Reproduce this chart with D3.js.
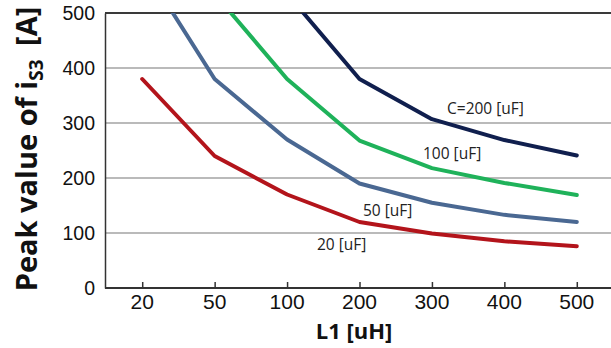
<!DOCTYPE html>
<html>
<head>
<title>Peak value of iS3 vs L1</title>
<script src="https://cdnjs.cloudflare.com/ajax/libs/d3/7.8.5/d3.min.js"></script>
<style>
  body { margin: 0; background: #fff; }
  svg { display: block; }
</style>
</head>
<body>
<svg width="611" height="348"></svg>
<script>
    // L1 values (categorical axis)
    const categories = ["20", "50", "100", "200", "300", "400", "500"];
    // peak iS3 [A] for each capacitor value
    const c20 = [380, 240, 170, 120, 99, 85, 76];
    const c50 = [588, 380, 270, 190, 155, 133, 120];
    const c100 = [null, 535, 380, 268, 218, 191, 169];
    const c200 = [null, null, 535, 380, 307, 269, 241];
    const yTicks = [0, 100, 200, 300, 400, 500];

    const series = [
        {name: "20 [uF]", values: c20, color: "#b3141b", lx: 317, ly: 250},
        {name: "50 [uF]", values: c50, color: "#4a6892", lx: 363, ly: 216},
        {name: "100 [uF]", values: c100, color: "#1fb25a", lx: 423, ly: 159},
        {name: "C=200 [uF]", values: c200, color: "#101f4e", lx: 447, ly: 114}
    ];

    const plotL = 105, plotT = 13, plotB = 288, plotR = 611;

    var x = d3.scalePoint()
        .domain(categories)
        .range([106, 613])
        .padding(0.5);
    var y = d3.scaleLinear()
        .domain([0, 500])
        .range([plotB, plotT]);

    var svg = d3.select("svg");

    svg.append("clipPath").attr("id", "plot")
        .append("rect")
        .attr("x", plotL).attr("y", plotT)
        .attr("width", plotR - plotL).attr("height", plotB - plotT);

    // horizontal gridlines
    svg.append("g")
        .selectAll("line").data(yTicks.filter(d => d > 0 && d < 500)).enter().append("line")
            .attr("x1", plotL).attr("x2", plotR)
            .attr("y1", d => y(d)).attr("y2", d => y(d))
            .attr("stroke", "#a3a3a3")
            .attr("stroke-width", 1.5);

    // top border
    svg.append("line")
        .attr("x1", plotL).attr("x2", plotR)
        .attr("y1", y(500)).attr("y2", y(500))
        .attr("stroke", "#3a3a3a").attr("stroke-width", 2);

    // y axis
    var yAxis = svg.append("g")
        .attr("transform", "translate(" + plotL + ",0)")
        .call(d3.axisLeft(y).tickValues(yTicks).tickSize(0).tickPadding(10));
    yAxis.select(".domain").attr("stroke", "#333").attr("stroke-width", 1.5);
    yAxis.selectAll("text")
        .attr("font-family", "Liberation Sans, Arial, sans-serif")
        .attr("font-size", 19.5)
        .attr("fill", "#111");

    // x axis
    var xAxis = svg.append("g")
        .attr("transform", "translate(0," + plotB + ")")
        .call(d3.axisTop(x).tickSize(6).tickFormat(""));
    xAxis.select(".domain").attr("d", "M" + plotL + ",0H" + plotR)
        .attr("stroke", "#333").attr("stroke-width", 2);
    xAxis.selectAll(".tick line").attr("stroke", "#333").attr("stroke-width", 1.5);

    svg.append("g")
        .selectAll("text").data(categories).enter().append("text")
            .attr("x", d => x(d))
            .attr("y", 309)
            .attr("text-anchor", "middle")
            .attr("font-family", "Liberation Sans, Arial, sans-serif")
            .attr("font-size", 21)
            .attr("fill", "#111")
            .text(d => d);

    // curves
    var line = d3.line()
        .defined(d => d.v != null)
        .x(d => x(d.c))
        .y(d => y(d.v));

    svg.append("g").attr("clip-path", "url(#plot)")
        .selectAll("path").data(series).enter().append("path")
            .attr("d", s => line(s.values.map((v, i) => ({c: categories[i], v: v}))))
            .attr("fill", "none")
            .attr("stroke", s => s.color)
            .attr("stroke-width", 4)
            .attr("stroke-linecap", "round")
            .attr("stroke-linejoin", "round");

    // curve labels
    svg.append("g")
        .selectAll("text").data(series).enter().append("text")
            .attr("x", s => s.lx)
            .attr("y", s => s.ly)
            .attr("font-family", "Open Sans, sans-serif")
            .attr("font-size", 15.5)
            .attr("fill", "#222")
            .text(s => s.name);

    // axis titles
    svg.append("text")
        .attr("x", 354).attr("y", 339)
        .attr("text-anchor", "middle")
        .attr("font-family", "Open Sans, sans-serif")
        .attr("font-weight", "bold")
        .attr("font-size", 22)
        .attr("fill", "#111")
        .text("L1 [uH]");

    var yt = svg.append("text")
        .attr("transform", "translate(37,149) rotate(-90)")
        .attr("text-anchor", "middle")
        .attr("font-family", "Open Sans, sans-serif")
        .attr("font-weight", "bold")
        .attr("font-size", 29)
        .attr("fill", "#111");
    yt.append("tspan").text("Peak value of i");
    yt.append("tspan").attr("font-size", 19).attr("dy", 6).text("S3");
    yt.append("tspan").attr("dy", -6).attr("dx", 6).text(" [A]");
</script>
</body>
</html>
